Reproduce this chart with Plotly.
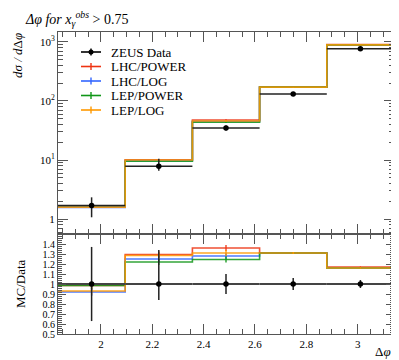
import math
import plotly.graph_objects as go

# ---------------- data ----------------
bin_edges = [7 * math.pi / 12, 2 * math.pi / 3, 3 * math.pi / 4, 5 * math.pi / 6, 11 * math.pi / 12, math.pi]
data_vals = [1.7, 7.8, 35.0, 131.0, 770.0]
data_err_up = [0.63, 2.65, 3.5, 7.9, 31.0]
data_err_dn = [0.63, 1.25, 3.5, 7.9, 31.0]

mc_names = ["LHC/POWER", "LHC/LOG", "LEP/POWER", "LEP/LOG"]
mc_colors = ["#EE3311", "#3366FF", "#109618", "#FF9900"]
mc_ratios = [
    [0.985, 1.295, 1.36, 1.31, 1.17],
    [0.92, 1.25, 1.28, 1.31, 1.16],
    [0.985, 1.22, 1.245, 1.31, 1.16],
    [0.93, 1.285, 1.31, 1.31, 1.16],
]
mc_rel_err = [0.04, 0.03, 0.03, 0.01, 0.005]

title_text = "<i>Δφ for x</i><sub><i>γ</i></sub><sup><i>obs</i></sup> > 0.75"
ylabel_main = "<i>dσ / d</i>Δ<i>φ</i>"
ylabel_ratio = "MC/Data"
xlabel = "Δ<i>φ</i>"
logtick_vals = [1, 10, 100, 1000]
logtick_text = ["1", "10<sup>1</sup>", "10<sup>2</sup>", "10<sup>3</sup>"]
ratio_tick_vals = [0.5, 0.6, 0.7, 0.8, 0.9, 1.0, 1.1, 1.2, 1.3, 1.4]
ratio_tick_text = ["0.5", "0.6", "0.7", "0.8", "0.9", "1", "1.1", "1.2", "1.3", "1.4"]
x_tick_vals = [2.0, 2.2, 2.4, 2.6, 2.8, 3.0]
x_tick_text = ["2", "2.2", "2.4", "2.6", "2.8", "3"]

# ---------------- derived ----------------
centers = [(bin_edges[i] + bin_edges[i + 1]) / 2 for i in range(len(data_vals))]
half_w = [(bin_edges[i + 1] - bin_edges[i]) / 2 for i in range(len(data_vals))]

FONT = "Liberation Serif"
W, H = 399, 360
ML, MR, MT, MB = 50, 13, 24, 34
plot_h = H - MT - MB
ratio_frac = 100 / plot_h

fig = go.Figure()

def step_xy(vals):
    return bin_edges, list(vals) + [vals[-1]]

# MC traces
for name, col, rat in zip(mc_names, mc_colors, mc_ratios):
    mc_vals = [r * d for r, d in zip(rat, data_vals)]
    sx, sy = step_xy(mc_vals)
    fig.add_trace(go.Scatter(x=sx, y=sy, mode="lines", line=dict(color=col, width=1.6, shape="hv"),
                             opacity=0.85, xaxis="x", yaxis="y", showlegend=False, hoverinfo="skip"))
    fig.add_trace(go.Scatter(x=centers, y=mc_vals, mode="markers", marker=dict(size=1, color=col, opacity=0),
                             error_y=dict(type="data", array=[e * v for e, v in zip(mc_rel_err, mc_vals)],
                                          color=col, width=0, thickness=1.3),
                             xaxis="x", yaxis="y", showlegend=False, hoverinfo="skip"))
    sx, sy = step_xy(rat)
    fig.add_trace(go.Scatter(x=sx, y=sy, mode="lines", line=dict(color=col, width=1.6, shape="hv"),
                             opacity=0.85, xaxis="x2", yaxis="y2", showlegend=False, hoverinfo="skip"))
    fig.add_trace(go.Scatter(x=centers, y=rat, mode="markers", marker=dict(size=1, color=col, opacity=0),
                             error_y=dict(type="data", array=mc_rel_err, color=col, width=0, thickness=1.3),
                             xaxis="x2", yaxis="y2", showlegend=False, hoverinfo="skip"))

# data main
fig.add_trace(go.Scatter(x=centers, y=data_vals, mode="markers",
                         marker=dict(size=5.5, color="black"),
                         error_x=dict(type="data", array=half_w, color="#222", width=0, thickness=1.5),
                         error_y=dict(type="data", symmetric=False, array=data_err_up, arrayminus=data_err_dn,
                                      color="#222", width=0, thickness=1.5),
                         xaxis="x", yaxis="y", showlegend=False, hoverinfo="skip"))
# data ratio
fig.add_trace(go.Scatter(x=centers, y=[1.0] * len(data_vals), mode="markers",
                         marker=dict(size=5.5, color="black"),
                         error_x=dict(type="data", array=half_w, color="#444", width=0, thickness=2),
                         error_y=dict(type="data", symmetric=False,
                                      array=[u / d for u, d in zip(data_err_up, data_vals)],
                                      arrayminus=[u / d for u, d in zip(data_err_dn, data_vals)],
                                      color="#222", width=0, thickness=1.5),
                         xaxis="x2", yaxis="y2", showlegend=False, hoverinfo="skip"))

axis_common = dict(showline=True, linecolor="#555", linewidth=1, mirror="allticks", ticks="inside",
                   tickcolor="#555", showgrid=False, zeroline=False)

xr = [bin_edges[0], bin_edges[-1]]
fig.update_layout(
    width=W, height=H, margin=dict(l=ML, r=MR, t=MT, b=MB),
    paper_bgcolor="white", plot_bgcolor="white",
    xaxis=dict(domain=[0, 1], anchor="y", range=xr, tickvals=x_tick_vals, showticklabels=False,
               ticklen=10, minor=dict(dtick=0.05, tick0=2.0, ticks="inside", ticklen=5, tickcolor="#555"),
               **axis_common),
    yaxis=dict(domain=[ratio_frac, 1], anchor="x", type="log", range=[-0.254, 3.169],
               tickvals=logtick_vals, ticktext=logtick_text, ticklen=10,
               tickfont=dict(family=FONT, size=11, color="black"),
               minor=dict(dtick="D1", ticks="inside", ticklen=5, tickcolor="#555"),
               **axis_common),
    xaxis2=dict(domain=[0, 1], anchor="y2", range=xr, tickvals=x_tick_vals, ticktext=x_tick_text,
                tickfont=dict(family=FONT, size=11, color="black"),
                ticklen=10, minor=dict(dtick=0.05, tick0=2.0, ticks="inside", ticklen=5, tickcolor="#555"),
                **axis_common),
    yaxis2=dict(domain=[0, ratio_frac], anchor="x2", range=[0.5, 1.5],
                tickvals=ratio_tick_vals, ticktext=ratio_tick_text, ticklen=8,
                tickfont=dict(family=FONT, size=10, color="black"),
                minor=dict(dtick=0.02, tick0=0.5, ticks="inside", ticklen=4, tickcolor="#555"),
                **axis_common),
)

def px_to_paper(px, py):
    return (px - ML) / (W - ML - MR), (H - MB - py) / plot_h

annotations = []
shapes = []
# title
annotations.append(dict(text=title_text, x=(15 - ML) / (W - ML - MR), y=(H - MB - 11) / plot_h,
                        xref="paper", yref="paper", xanchor="left", yanchor="middle", showarrow=False,
                        font=dict(family=FONT, size=14, color="black")))
# y label main
annotations.append(dict(text=ylabel_main, x=(10 - ML) / (W - ML - MR), y=(H - MB - 48) / plot_h,
                        xref="paper", yref="paper", xanchor="center", yanchor="middle", textangle=-90,
                        showarrow=False, font=dict(family=FONT, size=13, color="black")))
# y label ratio
annotations.append(dict(text=ylabel_ratio, x=(12 - ML) / (W - ML - MR), y=(H - MB - 276) / plot_h,
                        xref="paper", yref="paper", xanchor="center", yanchor="middle", textangle=-90,
                        showarrow=False, font=dict(family=FONT, size=13, color="black")))
# x label
annotations.append(dict(text=xlabel, x=(385 - ML) / (W - ML - MR), y=(H - MB - 343) / plot_h,
                        xref="paper", yref="paper", xanchor="right", yanchor="middle",
                        showarrow=False, font=dict(family=FONT, size=13, color="black")))

# legend
leg_names = ["ZEUS Data"] + mc_names
leg_colors = ["black"] + mc_colors
leg_rows = [44, 58.5, 73, 87.5, 102]
for i, (nm, col, py) in enumerate(zip(leg_names, leg_colors, leg_rows)):
    x0, y0 = px_to_paper(73, py)
    x1, _ = px_to_paper(93, py)
    xm, _ = px_to_paper(83, py)
    _, yt = px_to_paper(83, py - 3.5)
    _, yb = px_to_paper(83, py + 3.5)
    shapes.append(dict(type="line", xref="paper", yref="paper", x0=x0, x1=x1, y0=y0, y1=y0,
                       line=dict(color=col, width=1.6)))
    shapes.append(dict(type="line", xref="paper", yref="paper", x0=xm, x1=xm, y0=yb, y1=yt,
                       line=dict(color=col, width=1.4)))
    if i == 0:
        cx0, cy0 = px_to_paper(80.5, py + 2.5)
        cx1, cy1 = px_to_paper(85.5, py - 2.5)
        shapes.append(dict(type="circle", xref="paper", yref="paper", x0=cx0, x1=cx1, y0=cy0, y1=cy1,
                           fillcolor="black", line=dict(color="black", width=0)))
    tx, ty = px_to_paper(101, py)
    annotations.append(dict(text=nm, x=tx, y=ty, xref="paper", yref="paper", xanchor="left",
                            yanchor="middle", showarrow=False, font=dict(family=FONT, size=13, color="black")))

fig.update_layout(annotations=annotations, shapes=shapes)
fig.write_html("out.html")
